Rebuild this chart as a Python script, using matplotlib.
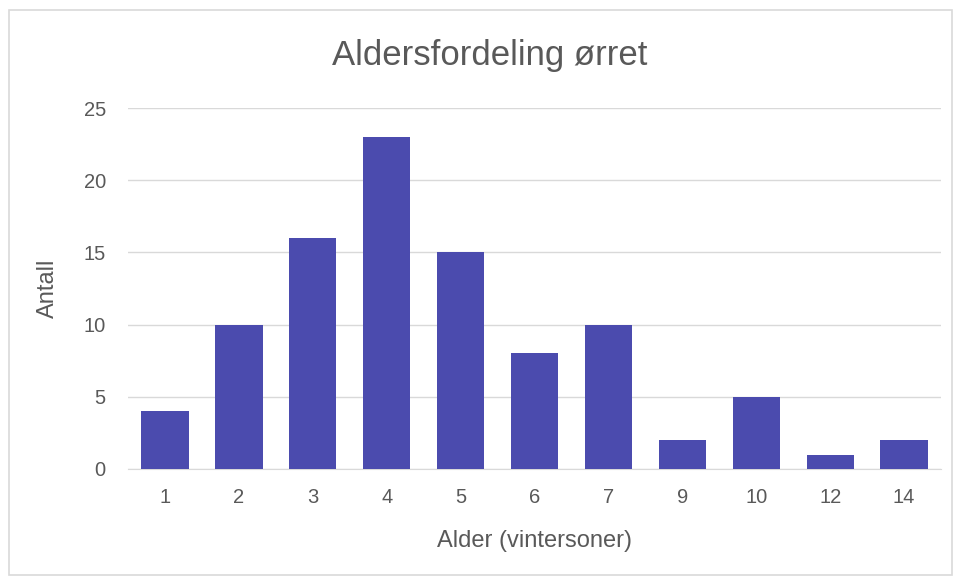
import numpy as np
from matplotlib import pyplot as plt
from matplotlib.patches import Rectangle

# Data
ages = ['1', '2', '3', '4', '5', '6', '7', '9', '10', '12', '14']
counts = [4, 10, 16, 23, 15, 8, 10, 2, 5, 1, 2]

bar_color = '#4B4BAE'
text_color = '#595959'
grid_color = '#D9D9D9'

plt.rcParams['font.family'] = ['Liberation Sans', 'DejaVu Sans']

fig = plt.figure(figsize=(9.58, 5.81), dpi=100)
ax = fig.add_axes([0.1336, 0.1928, 0.8487, 0.6213])

x = np.arange(len(ages))
ax.bar(x, counts, width=0.64, color=bar_color, zorder=3)

ax.set_xlim(-0.5, len(ages) - 0.5)
ax.set_ylim(0, 25)
ax.set_yticks(range(0, 26, 5))
ax.set_xticks(x)
ax.set_xticklabels(ages)

ax.grid(axis='y', color=grid_color, linewidth=1, zorder=0)
for side in ['top', 'right', 'left']:
    ax.spines[side].set_visible(False)
ax.spines['bottom'].set_color(grid_color)
ax.tick_params(axis='both', length=0, labelsize=14.5, colors=text_color)
ax.tick_params(axis='x', pad=14)
ax.tick_params(axis='y', pad=16)

ax.set_xlabel('Alder (vintersoner)', fontsize=17, color=text_color, labelpad=16)
ax.set_ylabel('Antall', fontsize=17, color=text_color, labelpad=18)
fig.text(0.511, 0.905, 'Aldersfordeling ørret', fontsize=25, color=text_color,
         ha='center', va='center')

# chart border
fig.patches.append(Rectangle((0.009, 0.01), 0.985, 0.972, transform=fig.transFigure,
                             fill=False, edgecolor='#D9D9D9', linewidth=1.2))

fig.savefig('out.png', dpi=100)
